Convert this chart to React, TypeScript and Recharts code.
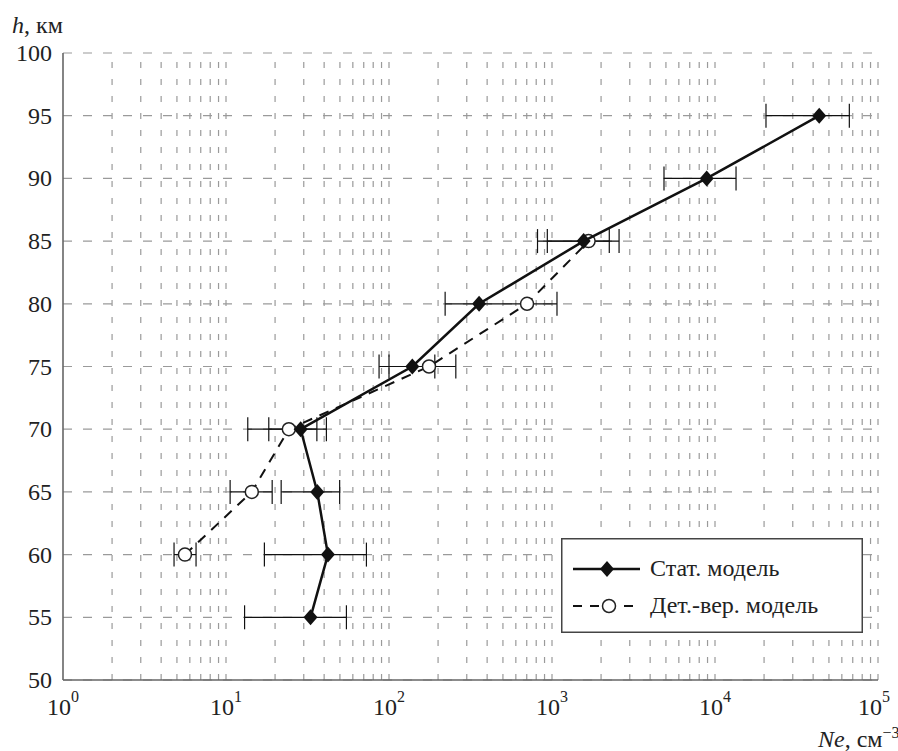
import React from 'react'
import {
  ScatterChart,
  Scatter,
  XAxis,
  YAxis,
  CartesianGrid,
  ReferenceLine,
  ErrorBar,
} from 'recharts'

// heights, km
const statHeights = [55, 60, 65, 70, 75, 80, 85, 90, 95]
const statNe = [33.0, 42.2, 36.3, 28.7, 139, 357, 1563, 8890, 43600]
const statLow = [13.0, 17.2, 21.8, 13.6, 86.9, 221, 815, 4865, 20550]
const statHigh = [54.8, 72.7, 49.8, 41.3, 257, 1073, 2579, 13460, 66700]

const detHeights = [60, 65, 70, 75, 80, 85]
const detNe = [5.6, 14.4, 24.3, 176, 703, 1677]
const detLow: (number | null)[] = [4.8, 10.6, 18.3, 100, null, 936]
const detHigh: (number | null)[] = [6.55, 19.2, 36.1, 191, null, 2246]

const xTicks = [1, 10, 100, 1000, 10000, 100000]
const yTicks = [50, 55, 60, 65, 70, 75, 80, 85, 90, 95, 100]
const minorSteps = [2, 3, 4, 5, 6, 7, 8, 9, 10]

const SERIF = "'Liberation Serif', 'Times New Roman', Tinos, Times, 'DejaVu Serif', 'Noto Serif', serif"
const INK = '#111'
const GRID = '#9a9a9a'

const statData = statHeights.map((h, i) => ({
  ne: statNe[i],
  h,
  err: [statNe[i] - statLow[i], statHigh[i] - statNe[i]],
}))

const detData = detHeights.map((h, i) => ({
  ne: detNe[i],
  h,
  err:
    detLow[i] == null || detHigh[i] == null
      ? null
      : [detNe[i] - (detLow[i] as number), (detHigh[i] as number) - detNe[i]],
}))

// minor log grid values: 2..10 x each decade
const minorLines: number[] = []
xTicks.slice(0, -1).forEach((d) => minorSteps.forEach((m) => minorLines.push(d * m)))

const Diamond = (props: any) => {
  const { cx, cy } = props
  if (cx == null || cy == null) return null
  return (
    <polygon
      points={`${cx},${cy - 8} ${cx + 7},${cy} ${cx},${cy + 8} ${cx - 7},${cy}`}
      fill={INK}
    />
  )
}

const Ring = (props: any) => {
  const { cx, cy } = props
  if (cx == null || cy == null) return null
  return <circle cx={cx} cy={cy} r={6.5} fill="#fff" stroke="#222" strokeWidth={1.5} />
}

const XTick = ({ x, y, payload }: any) => {
  const k = Math.round(Math.log10(payload.value))
  return (
    <text x={x} y={y + 35} textAnchor="middle" style={{ fontFamily: SERIF }} fontSize={24} fill="#222">
      <tspan>10</tspan>
      <tspan dy={-13} fontSize={16}>
        {k}
      </tspan>
    </text>
  )
}

const YTick = ({ x, y, payload }: any) => (
  <text x={x - 11} y={y + 8} textAnchor="end" style={{ fontFamily: SERIF }} fontSize={24} fill="#222">
    {payload.value}
  </text>
)

export default function App() {
  return (
    <div
      style={{
        position: 'absolute',
        left: 0,
        top: 0,
        width: 898,
        height: 751,
        background: '#fff',
        fontFamily: SERIF,
        color: '#222',
      }}
    >
      <ScatterChart width={898} height={751} margin={{ top: 53, right: 20, bottom: 31, left: 0 }}>
        <CartesianGrid
          vertical={false}
          stroke={GRID}
          strokeWidth={1.2}
          strokeDasharray="9 11"
        />
        {minorLines.map((v) => (
          <ReferenceLine
            key={v}
            x={v}
            stroke={GRID}
            strokeWidth={1.2}
            strokeDasharray="6 11"
          />
        ))}
        <XAxis
          type="number"
          dataKey="ne"
          scale="log"
          domain={[1, 100000]}
          ticks={xTicks}
          allowDataOverflow
          height={40}
          tickLine={false}
          tickSize={0}
          tickMargin={0}
          tick={<XTick />}
          stroke="#666"
          strokeWidth={1.6}
        />
        <YAxis
          type="number"
          dataKey="h"
          domain={[50, 100]}
          ticks={yTicks}
          width={63}
          tickLine={false}
          tickSize={0}
          tickMargin={0}
          tick={<YTick />}
          stroke="#666"
          strokeWidth={1.6}
        />
        <Scatter
          data={detData}
          line={{ stroke: INK, strokeWidth: 2, strokeDasharray: '10 8' }}
          lineType="joint"
          shape={<Ring />}
          isAnimationActive={false}
        >
          <ErrorBar dataKey="err" direction="x" width={12} stroke={INK} strokeWidth={1.2} />
        </Scatter>
        <Scatter
          data={statData}
          line={{ stroke: INK, strokeWidth: 2.5 }}
          lineType="joint"
          shape={<Diamond />}
          isAnimationActive={false}
        >
          <ErrorBar dataKey="err" direction="x" width={12} stroke={INK} strokeWidth={1.2} />
        </Scatter>
      </ScatterChart>

      {/* axis captions */}
      <div style={{ position: 'absolute', left: 12, top: 13, fontSize: 24, lineHeight: '24px' }}>
        <i>h</i>, км
      </div>
      <div style={{ position: 'absolute', left: 818, top: 727, fontSize: 24, lineHeight: '24px', whiteSpace: 'nowrap' }}>
        <i>Ne</i>, см<sup style={{ fontSize: 16, lineHeight: 0 }}>−3</sup>
      </div>

      {/* legend */}
      <svg
        width={302}
        height={95}
        style={{ position: 'absolute', left: 561, top: 538, fontFamily: SERIF }}
      >
        <rect x={0.75} y={0.75} width={300.5} height={93.5} fill="#fff" stroke="#444" strokeWidth={1.5} />
        <line x1={12} y1={31} x2={79} y2={31} stroke={INK} strokeWidth={2.5} />
        <Diamond cx={46} cy={31} />
        <text x={89} y={38} fontSize={24} fill="#222">
          Стат. модель
        </text>
        <line x1={12} y1={68} x2={79} y2={68} stroke={INK} strokeWidth={2} strokeDasharray="9 8" />
        <Ring cx={48} cy={68} />
        <text x={89} y={75} fontSize={24} fill="#222">
          Дет.-вер. модель
        </text>
      </svg>
    </div>
  )
}
